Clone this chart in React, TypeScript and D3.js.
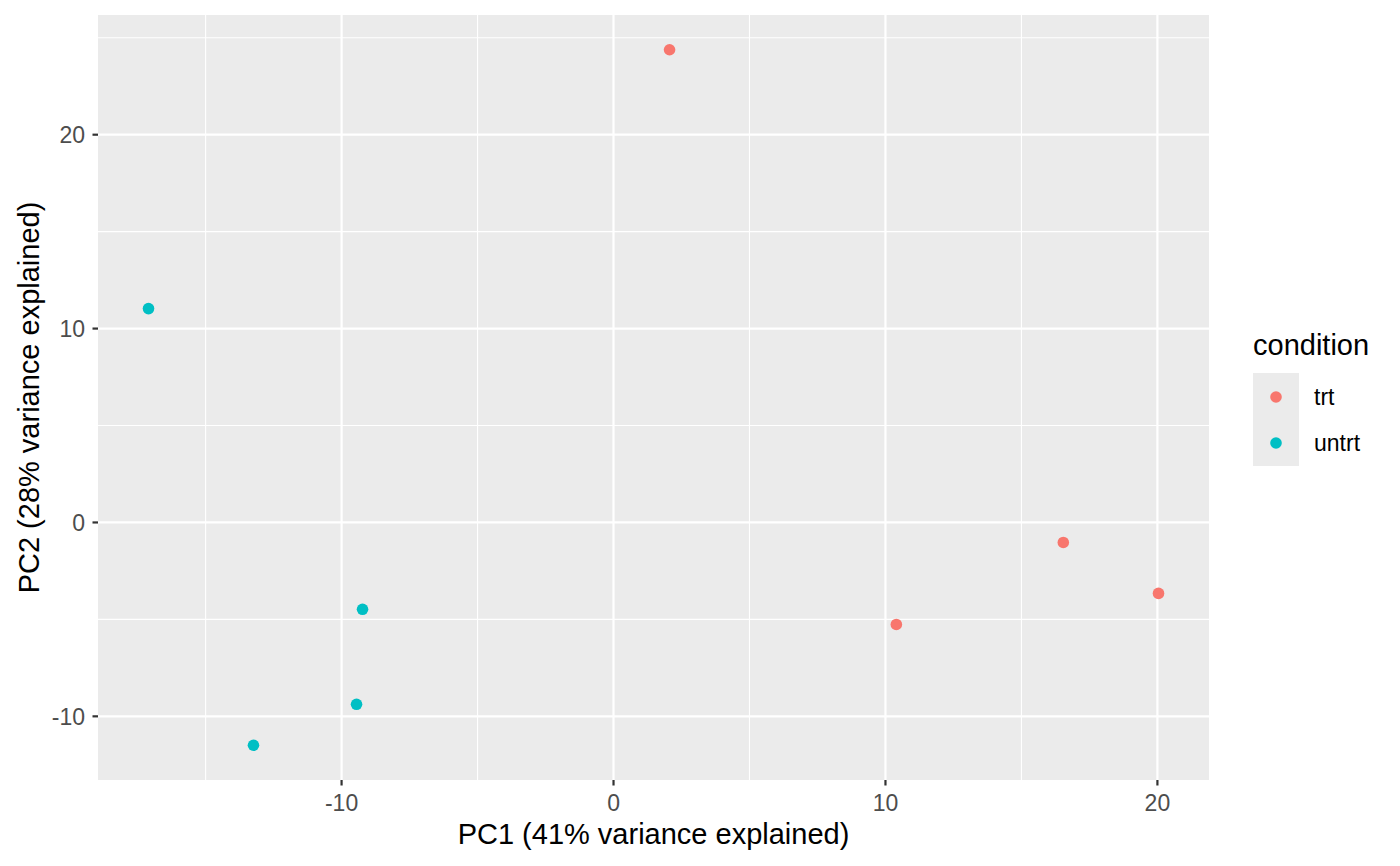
import React from "react";
import * as d3 from "d3";

const trtX = [2.06, 16.54, 20.04, 10.4];
const trtY = [24.38, -1.03, -3.66, -5.26];
const untrtX = [-17.1, -9.23, -9.45, -13.24];
const untrtY = [11.03, -4.48, -9.38, -11.49];
const conditions = ["trt", "untrt"];
const colors = ["#F8766D", "#00BFC4"];
const xTicks = [-10, 0, 10, 20];
const xMinor = [-15, -5, 5, 15];
const yTicks = [-10, 0, 10, 20];
const yMinor = [-5, 5, 15, 25];

const W = 1400, H = 866;
const L = 98, R = 1209, T = 15, B = 780;

export default function App() {
  const allX = [...trtX, ...untrtX];
  const allY = [...trtY, ...untrtY];
  const [x0, x1] = d3.extent(allX) as [number, number];
  const [y0, y1] = d3.extent(allY) as [number, number];
  const ex = (x1 - x0) * 0.05, ey = (y1 - y0) * 0.05;
  const x = d3.scaleLinear().domain([x0 - ex, x1 + ex]).range([L, R]);
  const y = d3.scaleLinear().domain([y0 - ey, y1 + ey]).range([B, T]);
  const font = "'Liberation Sans', Arial, Helvetica, sans-serif";
  const series = [
    { xs: trtX, ys: trtY, c: colors[0] },
    { xs: untrtX, ys: untrtY, c: colors[1] },
  ];
  const tickFs = 23;
  const titleFs = 29;
  return (
    <svg width={W} height={H} style={{ position: "absolute", left: 0, top: 0, fontFamily: font }}>
      <rect x={0} y={0} width={W} height={H} fill="#fff" />
      <rect x={L} y={T} width={R - L} height={B - T} fill="#EBEBEB" />
      {xMinor.map((v) => (
        <line key={"xm" + v} x1={x(v)} x2={x(v)} y1={T} y2={B} stroke="#fff" strokeWidth={1.1} />
      ))}
      {yMinor.filter((v) => y(v) >= T).map((v) => (
        <line key={"ym" + v} x1={L} x2={R} y1={y(v)} y2={y(v)} stroke="#fff" strokeWidth={1.1} />
      ))}
      {xTicks.map((v) => (
        <line key={"xM" + v} x1={x(v)} x2={x(v)} y1={T} y2={B} stroke="#fff" strokeWidth={2.2} />
      ))}
      {yTicks.map((v) => (
        <line key={"yM" + v} x1={L} x2={R} y1={y(v)} y2={y(v)} stroke="#fff" strokeWidth={2.2} />
      ))}
      {series.map((s, i) =>
        s.xs.map((xv, j) => (
          <circle key={i + "-" + j} cx={x(xv)} cy={y(s.ys[j])} r={5.8} fill={s.c} />
        ))
      )}
      {xTicks.map((v) => (
        <g key={"xt" + v}>
          <line x1={x(v)} x2={x(v)} y1={B} y2={B + 5.5} stroke="#333" strokeWidth={2.2} />
          <text x={x(v)} y={811} textAnchor="middle" fontSize={tickFs} fill="#4D4D4D">
            {v}
          </text>
        </g>
      ))}
      {yTicks.map((v) => (
        <g key={"yt" + v}>
          <line x1={L - 5.5} x2={L} y1={y(v)} y2={y(v)} stroke="#333" strokeWidth={2.2} />
          <text x={85} y={y(v) + 8.2} textAnchor="end" fontSize={tickFs} fill="#4D4D4D">
            {v}
          </text>
        </g>
      ))}
      <text x={(L + R) / 2} y={844} textAnchor="middle" fontSize={titleFs} fill="#000">
        PC1 (41% variance explained)
      </text>
      <text
        transform={`translate(${39},${(T + B) / 2}) rotate(-90)`}
        textAnchor="middle"
        fontSize={titleFs}
        fill="#000"
      >
        PC2 (28% variance explained)
      </text>
      <text x={1253} y={355} fontSize={titleFs} fill="#000">condition</text>
      <rect x={1253} y={373} width={46} height={93} fill="#EBEBEB" />
      {conditions.map((c, i) => (
        <g key={c}>
          <circle cx={1276} cy={397 + i * 46} r={5.8} fill={colors[i]} />
          <text x={1314} y={405 + i * 46} fontSize={tickFs} fill="#000">{c}</text>
        </g>
      ))}
    </svg>
  );
}
